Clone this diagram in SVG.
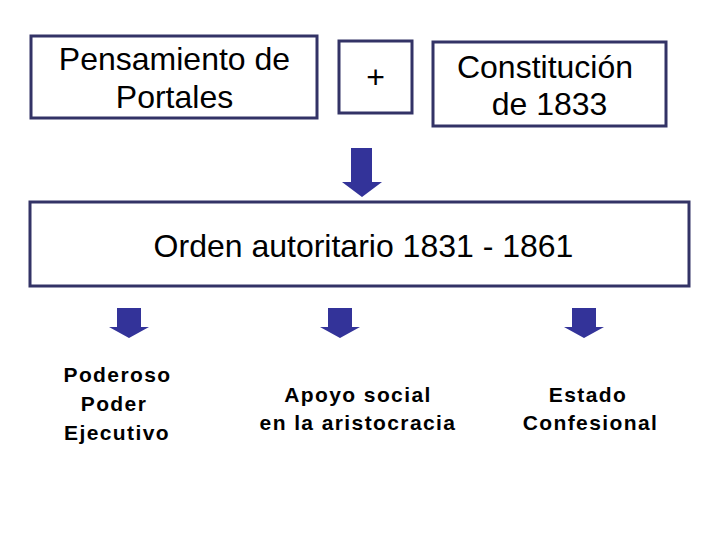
<svg xmlns="http://www.w3.org/2000/svg" width="720" height="540" viewBox="0 0 720 540">
<style>
.box{fill:#ffffff;stroke:#333366;stroke-width:3}
.arrow{fill:#333399}
.big{font-family:"Liberation Sans",Arial,sans-serif;font-size:32px;fill:#000;text-anchor:middle}
.small{font-family:"Liberation Sans",Arial,sans-serif;font-size:21px;font-weight:bold;letter-spacing:1.4px;fill:#000;text-anchor:middle}
</style>
<rect width="720" height="540" fill="#ffffff"/>
<g id="pensamiento">
<rect class="box" x="31" y="36" width="286" height="82"/>
<text class="big" x="174.5" y="70">Pensamiento de</text>
<text class="big" x="174.5" y="108">Portales</text>
</g>
<g id="plus">
<rect class="box" x="339" y="41" width="73" height="72"/>
<text class="big" x="375.5" y="88">+</text>
</g>
<g id="constitucion">
<rect class="box" x="433" y="42" width="233" height="84"/>
<text class="big" x="545" y="78">Constitución</text>
<text class="big" x="549.5" y="115">de 1833</text>
</g>
<g id="orden">
<rect class="box" x="30" y="202" width="659" height="84"/>
<text class="big" x="363.5" y="257">Orden autoritario 1831 - 1861</text>
</g>
<g id="connectors">
<polygon class="arrow" points="351,148 372,148 372,182 382,182 362,197 342,182 351,182"/>
<polygon class="arrow" points="117,308 141,308 141,327 149,327 129,338 109,327 117,327"/>
<polygon class="arrow" points="328,308 352,308 352,327 360,327 340,338 320,327 328,327"/>
<polygon class="arrow" points="572,308 596,308 596,327 604,327 584,338 564,327 572,327"/>
</g>
<g id="poder">
<text class="small" x="117.5" y="382">Poderoso</text>
<text class="small" x="114" y="411">Poder</text>
<text class="small" x="117" y="440">Ejecutivo</text>
</g>
<g id="apoyo">
<text class="small" x="358" y="402">Apoyo social</text>
<text class="small" x="358" y="430">en la aristocracia</text>
</g>
<g id="estado">
<text class="small" x="588" y="402">Estado</text>
<text class="small" x="590.5" y="430">Confesional</text>
</g>
</svg>
